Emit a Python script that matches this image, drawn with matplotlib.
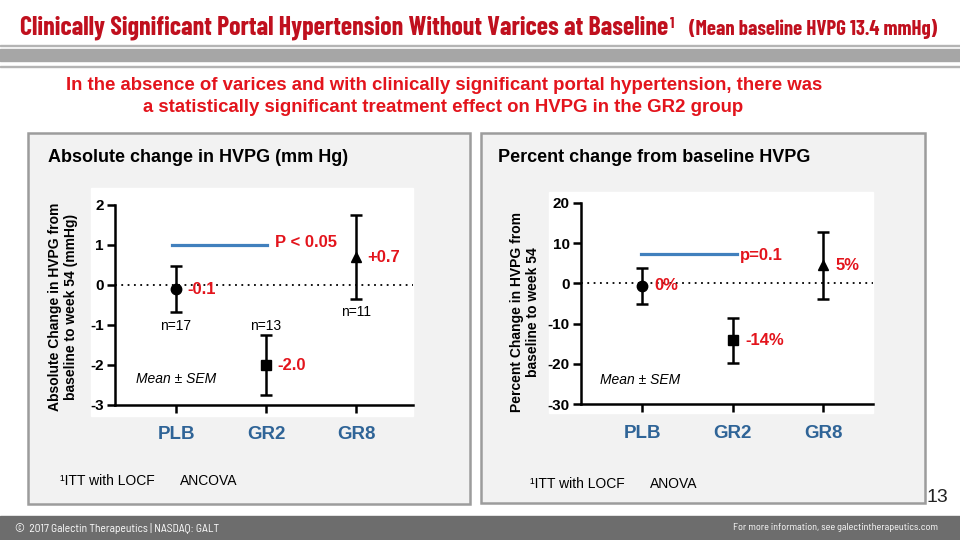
import matplotlib
matplotlib.use("Agg")
import matplotlib.pyplot as plt
from matplotlib.patches import Rectangle
from matplotlib import font_manager

# Données
groupes = ["PLB", "GR2", "GR8"]
abs_moy = [-0.1, -2.0, 0.7]
abs_sem = [0.57, 0.76, 1.04]
abs_etiq = ["-0.1", "-2.0", "+0.7"]
abs_n = ["n=17", "n=13", "n=11"]
pct_moy = [-0.6, -14.1, 4.5]
pct_sem = [4.4, 5.6, 8.3]
pct_etiq = ["0%", "-14%", "5%"]
abs_ticks = [-3, -2, -1, 0, 1, 2]
pct_ticks = [-30, -20, -10, 0, 10, 20]
marqueurs = ["o", "s", "^"]

W, H = 960, 540
ROUGE = "#c0101e"
ROUGE_VIF = "#e3141c"
BLEU = "#4180bd"
BLEU_TXT = "#2f6497"

noms = {f.name for f in font_manager.fontManager.ttflist}


def police(candidats):
    for nom in candidats:
        if nom in noms:
            return nom
    return "Liberation Sans"


ETROIT = police(["Liberation Sans Narrow", "Barlow Condensed", "Barlow Semi Condensed"])
SEMI = police(["Liberation Sans Narrow", "Barlow Semi Condensed", "Barlow Condensed"])
plt.rcParams["font.family"] = ["Liberation Sans", "DejaVu Sans"]


fig = plt.figure(figsize=(W / 100, H / 100), dpi=100)
fond = fig.add_axes([0, 0, 1, 1])
fond.set_xlim(0, W)
fond.set_ylim(H, 0)
fond.axis("off")
rend = fig.canvas.get_renderer()


def ajuster(t, largeur):
    # règle la taille de police pour que le texte occupe la largeur voulue (pixels)
    w = t.get_window_extent(rend).width
    t.set_fontsize(t.get_fontsize() * largeur / w)


# Bandeau du titre
fond.add_patch(Rectangle((0, 44.5), W, 1.2, color="#b4b4b4"))
fond.add_patch(Rectangle((0, 49), W, 12, color="#a6a6a6"))
fond.add_patch(Rectangle((0, 65.5), W, 1.2, color="#b4b4b4"))

titre = fond.text(20, 35, "Clinically Significant Portal Hypertension Without Varices at Baseline",
                  fontsize=17, fontweight="bold", color=ROUGE, family=ETROIT, va="baseline")
ajuster(titre, 648)
fond.annotate("1", xy=(1, 1), xycoords=titre, xytext=(1.5, -0.5), textcoords="offset points",
              fontsize=11, fontweight="bold", color=ROUGE, family=ETROIT, va="top")
sous = fond.text(689, 35, "(Mean baseline HVPG 13.4 mmHg)", fontsize=13, fontweight="bold",
                 color=ROUGE, family=ETROIT, va="baseline")
ajuster(sous, 248)

l1 = fond.text(444, 86, "In the absence of varices and with clinically significant portal hypertension, there was",
               fontsize=13, fontweight="bold", color=ROUGE_VIF, ha="center", va="center")
ajuster(l1, 758)
fond.text(443, 108, "a statistically significant treatment effect on HVPG in the GR2 group",
          fontsize=l1.get_fontsize(), fontweight="bold", color=ROUGE_VIF, ha="center", va="center")

# Panneaux gris et zones blanches
for x0, x1, y1 in [(28, 470, 504), (481, 925, 503)]:
    fond.add_patch(Rectangle((x0, 133), x1 - x0, y1 - 133, facecolor="#f2f2f2",
                             edgecolor="#9c9c9c", linewidth=1.8))
fond.add_patch(Rectangle((91, 188), 322, 228, color="white"))
fond.add_patch(Rectangle((549, 192), 324, 221, color="white"))

fond.text(48, 158, "Absolute change in HVPG (mm Hg)", fontsize=13, fontweight="bold", va="center")
fond.text(498, 158, "Percent change from baseline HVPG", fontsize=13, fontweight="bold", va="center")

fond.text(63, 307, "Absolute Change in HVPG from\nbaseline to week 54 (mmHg)", rotation=90,
          fontsize=10, fontweight="bold", ha="center", va="center", linespacing=1.1)
fond.text(525, 312, "Percent Change in HVPG from\nbaseline to week 54", rotation=90,
          fontsize=10, fontweight="bold", ha="center", va="center", linespacing=1.1)

fond.text(60, 481, "\u00b9ITT with LOCF", fontsize=10, va="center")
fond.text(180, 481, "ANCOVA", fontsize=10, va="center")
fond.text(530, 484, "\u00b9ITT with LOCF", fontsize=10, va="center")
fond.text(650, 484, "ANOVA", fontsize=10, va="center")
fond.text(927, 498, "13", fontsize=14, color="#222222", va="center")

# Pied de page
fond.add_patch(Rectangle((0, 516), W, 24, color="#6d6d6d"))
p1 = fond.text(15, 528, "\u00a9  2017 Galectin Therapeutics | NASDAQ: GALT", fontsize=8,
               color="white", family=SEMI, va="center")
ajuster(p1, 205)
p2 = fond.text(938, 528, "For more information, see galectintherapeutics.com", fontsize=8,
               color="white", family=SEMI, va="center", ha="right")
ajuster(p2, 206)


def panneau(pos, xlim, ylim, ticks, moy, sem, etiq, dx):
    x0, y0, x1, y1 = pos
    ax = fig.add_axes([x0 / W, 1 - y1 / H, (x1 - x0) / W, (y1 - y0) / H])
    ax.set_facecolor("none")
    x = range(1, len(groupes) + 1)
    for xi, m, s, mk in zip(x, moy, sem, marqueurs):
        ax.errorbar(xi, m, yerr=s, fmt=mk, color="black", markersize=7.5,
                    elinewidth=1.8, capsize=4, capthick=1.8, zorder=3)
    for xi, m, t in zip(x, moy, etiq):
        ax.text(xi + dx, m, t, color=ROUGE_VIF, fontsize=12, fontweight="bold",
                ha="left", va="center", zorder=4)
    ax.axhline(0, color="black", linestyle=(0, (1, 2.5)), linewidth=1.3, zorder=1)
    ax.set_xlim(*xlim)
    ax.set_ylim(*ylim)
    ax.set_yticks(ticks)
    ax.set_yticklabels([str(t) for t in ticks], fontsize=11, fontweight="bold")
    ax.set_xticks(list(x))
    ax.set_xticklabels(groupes, fontsize=13.5, fontweight="bold", color=BLEU_TXT)
    ax.tick_params(axis="x", length=6, width=1.8, pad=9)
    ax.tick_params(axis="y", length=6, width=1.8, pad=2)
    for c in ["top", "right"]:
        ax.spines[c].set_visible(False)
    for c in ["left", "bottom"]:
        ax.spines[c].set_linewidth(1.8)
    return ax


ax1 = panneau((115, 205, 413, 405), (0.322, 3.633), (-3, 2), abs_ticks,
              abs_moy, abs_sem, abs_etiq, 0.13)
ax1.plot([0.96, 2.01], [1, 1], color=BLEU, linewidth=2.3)
ax1.text(2.1, 1.07, "P < 0.05", color=ROUGE_VIF, fontsize=12, fontweight="bold", va="center")
for xi, yi, t in zip([1, 2, 3], [-1.02, -1.02, -0.68], abs_n):
    ax1.text(xi, yi, t, fontsize=10, ha="center", va="center")
ax1.text(1.0, -2.35, "Mean \u00b1 SEM", fontsize=10, style="italic", ha="center", va="center")

ax2 = panneau((581, 203, 873, 404), (0.326, 3.552), (-30, 20), pct_ticks,
              pct_moy, pct_sem, pct_etiq, 0.14)
ax2.plot([0.99, 2.05], [7.4, 7.4], color=BLEU, linewidth=2.3)
ax2.text(2.08, 7.0, "p=0.1", color=ROUGE_VIF, fontsize=12, fontweight="bold", va="center")
ax2.text(0.98, -24, "Mean \u00b1 SEM", fontsize=10, style="italic", ha="center", va="center")

fig.savefig("out.png", dpi=100)
